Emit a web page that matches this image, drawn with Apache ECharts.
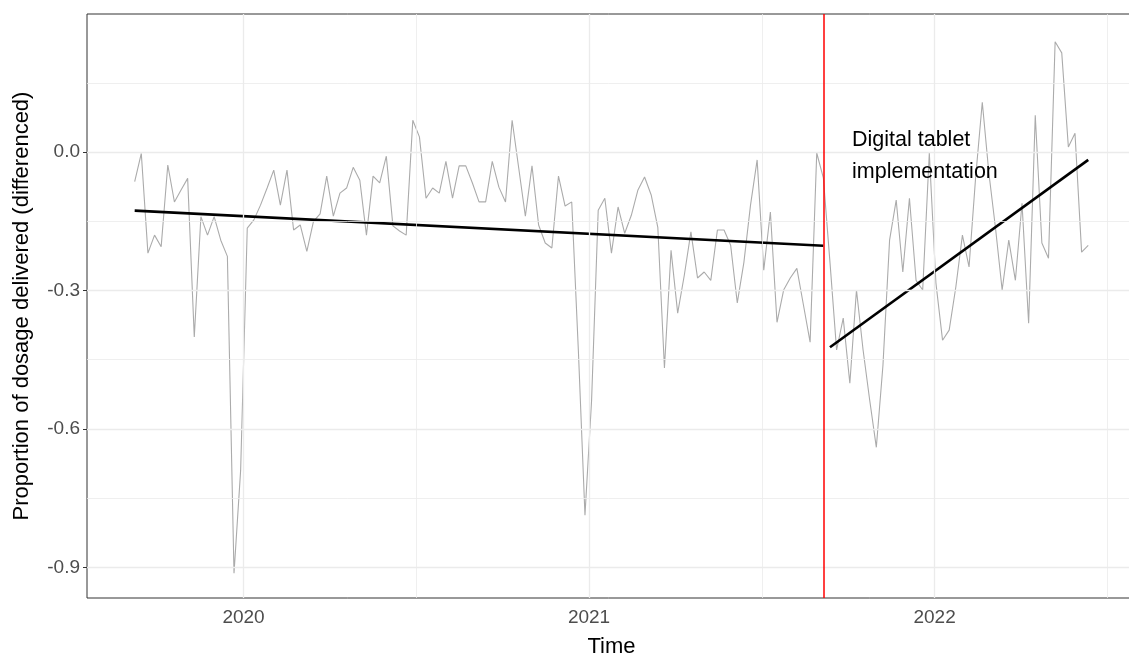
<!DOCTYPE html>
<html>
<head>
<meta charset="utf-8">
<script src="https://cdn.jsdelivr.net/npm/echarts@6/dist/echarts.min.js"></script>
<style>
html,body{margin:0;padding:0;background:#fff;}
#chart{width:1129px;height:657px;}
</style>
</head>
<body>
<div id="chart"></div>
<script>
// ---- data ----
const firstWeek = 2019.685;          // decimal year of first weekly observation
const weekStep = 7 / 365.25;         // one week in years
const dosageDiff = [
-0.064,-0.003,-0.219,-0.180,-0.205,-0.028,-0.108,-0.082,-0.057,-0.401,
-0.140,-0.180,-0.140,-0.191,-0.226,-0.913,-0.690,-0.165,-0.147,-0.115,
-0.078,-0.039,-0.115,-0.039,-0.169,-0.158,-0.215,-0.150,-0.134,-0.052,
-0.139,-0.089,-0.078,-0.033,-0.061,-0.180,-0.052,-0.067,-0.009,-0.160,
-0.171,-0.180,0.069,0.033,-0.100,-0.078,-0.089,-0.020,-0.100,-0.030,
-0.030,-0.067,-0.108,-0.108,-0.020,-0.076,-0.108,0.069,-0.035,-0.139,
-0.030,-0.158,-0.197,-0.208,-0.052,-0.117,-0.108,-0.429,-0.787,-0.538,
-0.126,-0.100,-0.219,-0.119,-0.176,-0.137,-0.082,-0.054,-0.093,-0.163,
-0.468,-0.213,-0.349,-0.267,-0.173,-0.273,-0.260,-0.278,-0.169,-0.169,
-0.202,-0.327,-0.239,-0.115,-0.017,-0.256,-0.130,-0.369,-0.299,-0.273,
-0.252,-0.332,-0.412,-0.002,-0.056,-0.239,-0.429,-0.360,-0.501,-0.299,
-0.429,-0.538,-0.640,-0.462,-0.191,-0.104,-0.260,-0.100,-0.278,-0.299,
-0.002,-0.284,-0.408,-0.386,-0.293,-0.180,-0.249,-0.054,0.108,-0.046,
-0.165,-0.299,-0.191,-0.278,-0.111,-0.371,0.080,-0.197,-0.230,0.239,
0.215,0.011,0.041,-0.217,-0.202
];
const interventionIndex = 104;       // last pre-intervention week
const preTrend = [-0.127, -0.203];   // fitted line, first & last pre week
const postTrend = [-0.423, -0.017];  // fitted line, first & last post week
const xTicks = [2020, 2021, 2022];
const xMinorGrid = [2020.5, 2021.5, 2022.5];
const yTicks = [-0.9, -0.6, -0.3, 0.0];
const yMinorGrid = [-0.75, -0.45, -0.15, 0.15];
const annotationText = 'Digital tablet\nimplementation';

// ---- build ----
const weeks = dosageDiff.map((_, i) => firstWeek + i * weekStep);
const seriesData = dosageDiff.map((v, i) => [weeks[i], v]);
const last = dosageDiff.length - 1;
const preLine = [[weeks[0], preTrend[0]], [weeks[interventionIndex], preTrend[1]]];
const postLine = [[weeks[interventionIndex + 1], postTrend[0]], [weeks[last], postTrend[1]]];

const FONT = '"Liberation Sans", Arial, sans-serif';
const chart = echarts.init(document.getElementById('chart'), null, {renderer: 'canvas'});

const gridLines = (vals, key, width) => vals.map(v => ({[key]: v, lineStyle: {width: width}}));

chart.setOption({
  animation: false,
  backgroundColor: '#ffffff',
  grid: {left: 87, top: 14, right: -7, bottom: 59, containLabel: false, outerBoundsMode: 'none',
         show: true, borderColor: '#333333', borderWidth: 1, backgroundColor: '#ffffff'},
  xAxis: {
    type: 'value', min: 2019.547, max: 2022.583,
    name: 'Time', nameLocation: 'middle', nameGap: 38,
    nameTextStyle: {fontFamily: FONT, fontSize: 22, color: '#000000'},
    axisLine: {show: false},
    axisTick: {show: true, customValues: xTicks, length: 4, lineStyle: {color: '#333333'}},
    axisLabel: {customValues: xTicks, margin: 10, fontFamily: FONT, fontSize: 19, color: '#4D4D4D', formatter: v => String(v)},
    splitLine: {show: false}
  },
  yAxis: {
    type: 'value', min: -0.9666, max: 0.2993,
    name: 'Proportion of dosage delivered (differenced)', nameLocation: 'middle', nameGap: 54,
    nameTextStyle: {fontFamily: FONT, fontSize: 22, color: '#000000'},
    axisLine: {show: false},
    axisTick: {show: true, customValues: yTicks, length: 4, lineStyle: {color: '#333333'}},
    axisLabel: {customValues: yTicks, margin: 7, fontFamily: FONT, fontSize: 19, color: '#4D4D4D', formatter: v => v.toFixed(1)},
    splitLine: {show: false}
  },
  graphic: [{
    type: 'text', left: 852, top: 124, z: 100,
    style: {text: annotationText, font: '21.5px ' + FONT, fill: '#000000', lineHeight: 32}
  }],
  series: [
    {
      name: 'grid', type: 'line', data: [], z: 1, silent: true,
      markLine: {
        silent: true, symbol: ['none', 'none'], label: {show: false}, animation: false,
        lineStyle: {color: '#EBEBEB', type: 'solid', width: 1},
        data: [].concat(
          gridLines(xMinorGrid, 'xAxis', 0.8), gridLines(yMinorGrid, 'yAxis', 0.8),
          gridLines(xTicks, 'xAxis', 1.3), gridLines(yTicks, 'yAxis', 1.3)
        )
      }
    },
    {
      name: 'observed', type: 'line', data: seriesData, z: 2,
      showSymbol: false, symbol: 'none', smooth: false,
      lineStyle: {color: '#ABABAB', width: 1.1}
    },
    {
      name: 'intervention', type: 'line', data: [], z: 3, silent: true,
      markLine: {
        silent: true, symbol: ['none', 'none'], label: {show: false},
        lineStyle: {color: '#FF0000', type: 'solid', width: 1.5},
        data: [{xAxis: weeks[interventionIndex]}]
      }
    },
    {
      name: 'pre', type: 'line', data: preLine, z: 4, showSymbol: false, symbol: 'none',
      lineStyle: {color: '#000000', width: 2.6}
    },
    {
      name: 'post', type: 'line', data: postLine, z: 4, showSymbol: false, symbol: 'none',
      lineStyle: {color: '#000000', width: 2.6}
    }
  ]
});
</script>
</body>
</html>
